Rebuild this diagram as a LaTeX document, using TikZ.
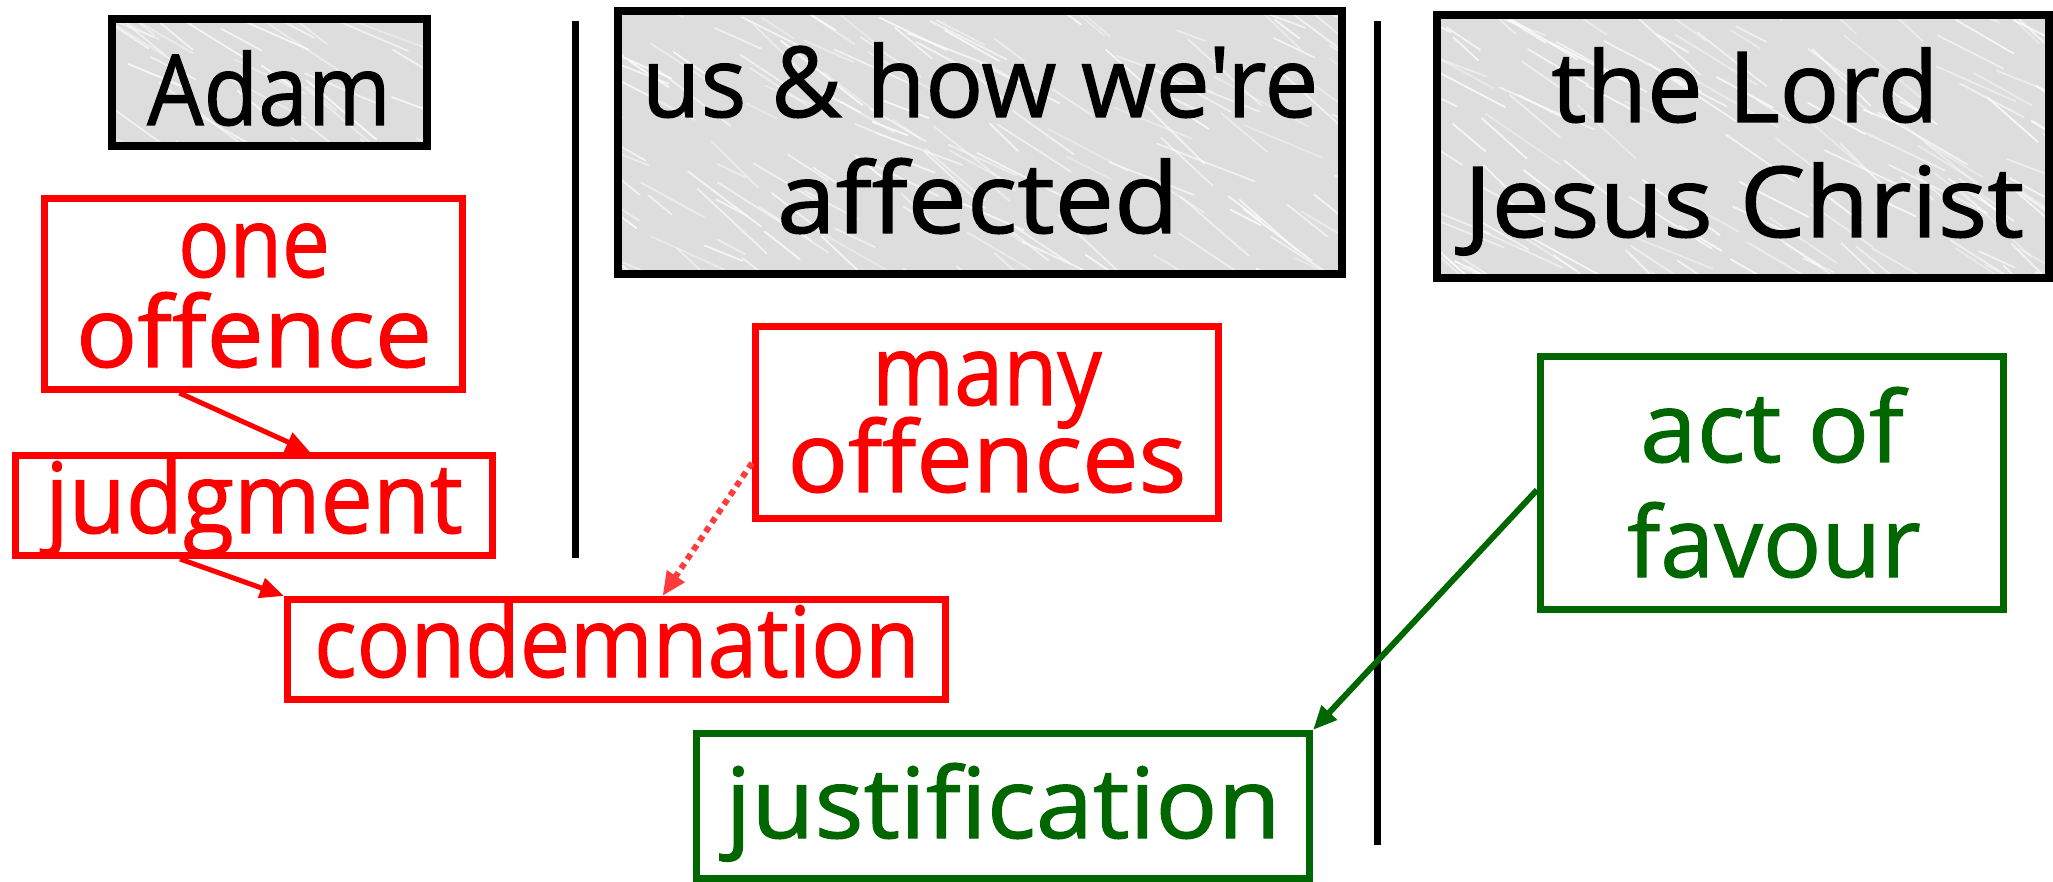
\documentclass[tikz,border=0pt]{standalone}
\usepackage{fontspec}
\usepackage{graphicx}
\setmainfont{Open Sans}[FakeBold=1.2, Ligatures=TeXOff]
\usetikzlibrary{arrows.meta}
\definecolor{myred}{RGB}{255,0,0}
\definecolor{mygreen}{RGB}{0,102,0}
\definecolor{dotred}{RGB}{255,60,60}
\definecolor{marble}{RGB}{221,221,221}
\newcommand{\marblefill}[5]{% x1 y1 x2 y2 count
  \begin{scope}
    \clip (#1,#2) rectangle (#3,#4);
    \foreach \k in {1,...,#5}{
      \pgfmathsetmacro{\sx}{#1-80+(#3-#1+80)*rnd}
      \pgfmathsetmacro{\sy}{#2-40+(#4-#2+40)*rnd}
      \pgfmathsetmacro{\sl}{30+80*rnd}
      \pgfmathsetmacro{\sa}{20+25*rnd}
      \pgfmathsetmacro{\so}{0.35+0.45*rnd}
      \draw[white, opacity=\so, line width=0.9pt, line cap=round] (\sx,\sy) -- ++(\sa:\sl);
    }
  \end{scope}}
\begin{document}
\begin{tikzpicture}[x=0.5pt,y=-0.5pt,
  txt/.style={font=\fontsize{49pt}{58pt}\selectfont, anchor=base, inner sep=0pt},
  graybox/.style={draw=black, fill=marble, line width=4pt, inner sep=0pt, outer sep=0pt},
  grayborder/.style={draw=black, line width=4pt},
  redbox/.style={draw=myred, line width=3.5pt, inner sep=0pt},
  greenbox/.style={draw=mygreen, line width=3.5pt, inner sep=0pt},
  divider/.style={line width=3.5pt, black},
  redarrow/.style={draw=myred, line width=2.5pt, -{Triangle[length=12pt,width=10pt]}},
  dotarrow/.style={draw=dotred, line width=3pt, dash pattern=on 3pt off 2.5pt, -{Triangle[length=12pt,width=10pt,fill=dotred]}},
  greenarrow/.style={draw=mygreen, line width=3pt, -{Triangle[length=12pt,width=10pt]}}
]
\pgfmathsetseed{11}
\useasboundingbox (0,0) rectangle (2053,882);

% dividers
\coordinate (d1t) at (575,21);
\coordinate (d1b) at (575,558);
\coordinate (d2t) at (1377,21);
\coordinate (d2b) at (1377,845);
\draw[divider] (d1t) -- (d1b);
\draw[divider] (d2t) -- (d2b);

% header boxes
\node[graybox, minimum width=157.5pt, minimum height=63.5pt] (adam) at (269,83) {};
\node[graybox, minimum width=362pt, minimum height=131.5pt] (us) at (979.5,143) {};
\node[graybox, minimum width=306pt, minimum height=131.5pt] (lord) at (1742.5,147) {};
\marblefill{111.5}{19.5}{426.5}{146.5}{45}
\marblefill{617.5}{11.5}{1341.5}{274.5}{170}
\marblefill{1436.5}{15.5}{2048.5}{278.5}{150}
\draw[grayborder] (adam.south west) rectangle (adam.north east);
\draw[grayborder] (us.south west) rectangle (us.north east);
\draw[grayborder] (lord.south west) rectangle (lord.north east);

\node[txt] (adamT) at (269,125) {\scalebox{0.91}[1]{Adam}};
\node[txt] (usT1) at (980,117) {\scalebox{0.98}[1]{us \& how we're}};
\node[txt] (usT2) at (978,233) {\scalebox{1.08}[1]{affected}};
\node[txt] (lordT1) at (1745,122) {\scalebox{1.01}[1]{the Lord}};
\node[txt] (lordT2) at (1744,237) {\scalebox{1.06}[1]{Jesus Christ}};

% red boxes
\node[redbox, minimum width=209pt, minimum height=95.5pt] (oneoff) at (253.5,294) {};
\node[txt, text=myred] (oneT1) at (254,277) {\scalebox{0.87}[1]{one}};
\node[txt, text=myred] (oneT2) at (254,367) {\scalebox{1.04}[1]{offence}};

\node[redbox, minimum width=238.5pt, minimum height=50pt] (judg) at (254,505.5) {};
\node[txt, text=myred] (judgT) at (254,533) {\scalebox{0.95}[1]{judgment}};

\node[redbox, minimum width=329pt, minimum height=50pt] (cond) at (616.5,649.5) {};
\node[txt, text=myred] (condT) at (617,677) {\scalebox{0.91}[1]{condemnation}};

\node[redbox, minimum width=231.5pt, minimum height=96pt] (many) at (987,422.5) {};
\node[txt, text=myred] (manyT1) at (987,405) {\scalebox{0.9}[1]{many}};
\node[txt, text=myred] (manyT2) at (987,492) {\scalebox{1.025}[1]{offences}};

% green boxes
\node[greenbox, minimum width=231.5pt, minimum height=126.5pt] (act) at (1772,483) {};
\node[txt, text=mygreen] (actT1) at (1772,462) {\scalebox{1.04}[1]{act of}};
\node[txt, text=mygreen] (actT2) at (1774,577) {\scalebox{0.99}[1]{favour}};

\node[greenbox, minimum width=306.5pt, minimum height=72.5pt] (just) at (1003,806) {};
\node[txt, text=mygreen] (justT) at (1003,838) {\scalebox{1.05}[1]{justification}};

% connectors
\draw[redarrow] ([xshift=-37pt]oneoff.south) -- ([xshift=28pt]judg.north);
\draw[redarrow] ([xshift=-37pt]judg.south) -- (cond.north west);
\draw[dotarrow] ([yshift=-20.25pt]many.west) -- ([xshift=23pt]cond.north);
\draw[greenarrow] ([yshift=-3.5pt]act.west) -- (just.north east);
\end{tikzpicture}
\end{document}
